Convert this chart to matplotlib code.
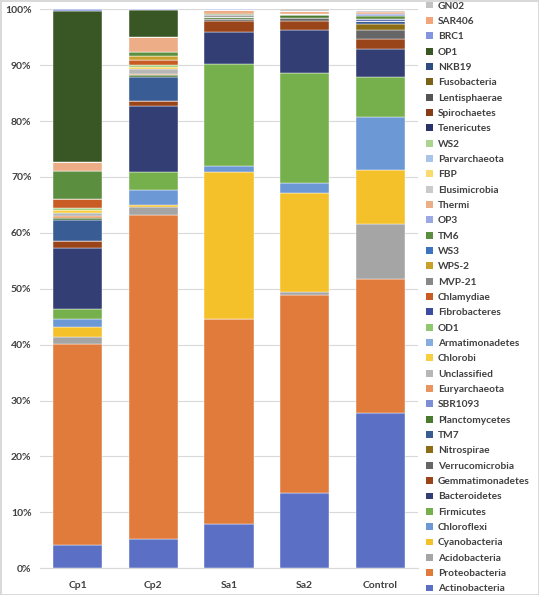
import matplotlib
matplotlib.use("Agg")
import matplotlib.pyplot as plt
from matplotlib.patches import Patch
from matplotlib.ticker import PercentFormatter
import numpy as np

plt.rcParams['font.family'] = ['Lato', 'DejaVu Sans']

samples = ["Cp1", "Cp2", "Sa1", "Sa2", "Control"]

# phyla from the bottom of each bar to the top
phyla = ["Actinobacteria", "Proteobacteria", "Acidobacteria", "Cyanobacteria",
         "Chloroflexi", "Firmicutes", "Bacteroidetes", "Gemmatimonadetes",
         "Verrucomicrobia", "Nitrospirae", "TM7", "Planctomycetes", "SBR1093",
         "Euryarchaeota", "Unclassified", "Chlorobi", "Armatimonadetes", "OD1",
         "Fibrobacteres", "Chlamydiae", "MVP-21", "WPS-2", "WS3", "TM6", "OP3",
         "Thermi", "Elusimicrobia", "FBP", "Parvarchaeota", "WS2", "Tenericutes",
         "Spirochaetes", "Lentisphaerae", "Fusobacteria", "NKB19", "OP1", "BRC1",
         "SAR406", "GN02"]

# relative abundance (%) per sample, same order as phyla
cp1 = [4.2, 35.9, 1.2, 1.8, 1.4, 1.8, 11.0, 1.3, 0, 0, 3.7, 0.4, 0, 0.3, 0.6,
       0.4, 0.1, 0.3, 0, 1.7, 0, 0, 0, 5.0, 0, 1.6, 0, 0, 0, 0, 0, 0, 0, 0, 0,
       26.9, 0.4, 0, 0]
cp2 = [5.2, 57.9, 1.5, 0.3, 2.8, 3.1, 11.8, 1.0, 0, 0, 4.2, 0.4, 0, 0.3, 0.8,
       0.3, 0, 0.4, 0, 0.9, 0, 0.7, 0, 0.8, 0, 2.6, 0, 0, 0, 0, 0, 0, 0, 0, 0,
       4.8, 0.2, 0, 0]
sa1 = [8.0, 36.6, 0, 26.3, 1.1, 18.2, 5.8, 1.9, 0.4, 0, 0, 0.3, 0, 0, 0, 0,
       0, 0, 0, 0, 0.3, 0, 0, 0.2, 0, 0.8, 0, 0, 0, 0, 0, 0, 0, 0, 0, 0, 0.1,
       0, 0]
sa2 = [13.5, 35.4, 0.6, 17.7, 1.8, 19.6, 7.7, 1.6, 0.5, 0, 0, 0.6, 0, 0, 0.2,
       0, 0, 0, 0, 0, 0, 0, 0, 0, 0, 0.5, 0, 0, 0, 0, 0, 0, 0, 0, 0, 0, 0, 0,
       0.3]
control = [27.8, 24.0, 9.7, 9.8, 9.4, 7.1, 5.0, 1.9, 1.5, 1.2, 0.5, 0, 0, 0,
           0, 0, 0, 0, 0.4, 0, 0, 0, 0, 0.4, 0.5, 0.3, 0.3, 0, 0, 0, 0, 0, 0,
           0, 0, 0, 0, 0, 0.2]

colors = ["#5B6FC4", "#E07B3C", "#A5A5A5", "#F5C12A", "#6D98D6", "#75B04D",
          "#323E74", "#994419", "#666666", "#8C6D15", "#3A5C94", "#4A7A2E",
          "#7C8FD6", "#E9935E", "#B7B7B7", "#F8CF40", "#86ADDF", "#90C870",
          "#3C4DA0", "#C95B24", "#888888", "#C9A02A", "#3D72C0", "#5B8E3E",
          "#9AA8E3", "#EDAE87", "#CACACA", "#F9DB70", "#A8C4E8", "#ABD58F",
          "#28336A", "#873C16", "#545454", "#7A6316", "#2E4C80", "#395724",
          "#8495E0", "#F2A579", "#C3C3C3"]

data = np.array([cp1, cp2, sa1, sa2, control]).T
data = data / data.sum(axis=0)

fig = plt.figure(figsize=(5.39, 5.95), dpi=100)
fig.patch.set_edgecolor("#D9D9D9")
fig.patch.set_linewidth(1.0)
ax = fig.add_axes([0.074, 0.045, 0.7015, 0.9395])

x = np.arange(len(samples))
bottom = np.zeros(len(samples))
for i, name in enumerate(phyla):
    ax.bar(x, data[i], 0.65, bottom=bottom, color=colors[i],
           edgecolor="white", linewidth=0.3, zorder=2)
    bottom += data[i]

ax.set_xlim(-0.5, 4.5)
ax.set_ylim(0, 1)
ax.set_yticks(np.arange(0, 1.01, 0.1))
ax.yaxis.set_major_formatter(PercentFormatter(1.0, decimals=0))
ax.set_xticks(x)
ax.set_xticklabels(samples)
ax.tick_params(axis="y", length=0, labelsize=7.5, labelcolor="#404040", pad=6)
ax.tick_params(axis="x", length=0, labelsize=7.5, labelcolor="#404040", pad=9)
for lab in ax.get_xticklabels() + ax.get_yticklabels():
    lab.set_fontweight("bold")
ax.grid(axis="y", color="#D9D9D9", linewidth=0.8, zorder=0)
for s in ["top", "right", "left"]:
    ax.spines[s].set_visible(False)
ax.spines["bottom"].set_color("#D9D9D9")

handles = [Patch(facecolor=colors[i], label=phyla[i]) for i in range(len(phyla))][::-1]
leg = fig.legend(handles=handles, loc="upper left", bbox_to_anchor=(0.783, 1.004),
                 frameon=False, fontsize=7.3, handlelength=0.65, handleheight=0.65,
                 handletextpad=0.5, labelspacing=0.625, borderaxespad=0.0)
for t in leg.get_texts():
    t.set_fontweight("bold")
    t.set_color("#404040")

fig.savefig("out.png", dpi=100)
